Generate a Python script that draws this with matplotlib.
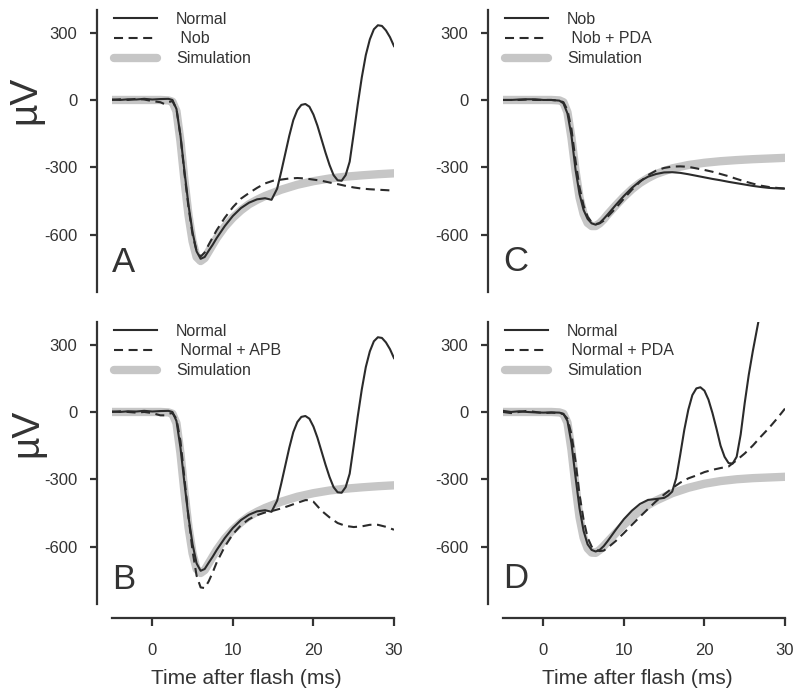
import matplotlib
matplotlib.use("Agg")
import matplotlib.pyplot as plt

plt.rcParams['font.family'] = ['Liberation Sans', 'DejaVu Sans']
plt.rcParams['lines.scale_dashes'] = False
plt.rcParams['axes.unicode_minus'] = False

# --- data (time in ms, response in uV) ---
t_normal = [-5, -4, -3, -2, -1, 0, 1, 2, 2.5, 3, 3.5, 4, 4.5, 5, 5.5, 6, 6.5, 7, 7.5, 8,
            9, 10, 11, 12, 13, 14, 14.8, 15.5, 16, 16.5, 17, 17.5, 18, 18.5, 19, 19.5,
            20, 20.5, 21, 21.5, 22, 22.5, 23, 23.5, 24, 24.5, 25, 25.5, 26, 26.5, 27,
            27.5, 28, 28.5, 29, 29.5, 30]
v_normal = [2, 0, 3, 2, 5, 2, 4, 5, 0, -40, -160, -320, -470, -590, -675, -708, -700,
            -672, -645, -615, -562, -517, -482, -458, -443, -438, -445, -395, -320, -240,
            -160, -90, -45, -22, -18, -30, -65, -115, -175, -235, -290, -335, -358, -360,
            -335, -275, -150, -20, 100, 200, 270, 315, 333, 330, 310, 280, 240]

t_nob_a = [-5, -4, -3, -2, -1, 0, 1, 1.5, 2, 2.5, 3, 3.5, 4, 4.5, 5, 5.5, 6, 6.5, 7, 8,
           9, 10, 11, 12, 13, 14, 15, 16, 17, 18, 19, 20, 21, 22, 23, 24, 25, 26, 27, 28,
           29, 30]
v_nob_a = [0, 3, 0, 5, 2, -5, -10, -18, -10, -5, -40, -160, -330, -480, -600, -675, -698,
           -680, -645, -580, -525, -478, -440, -415, -392, -372, -360, -355, -350, -348,
           -350, -355, -360, -368, -375, -383, -390, -395, -398, -400, -402, -404]

t_sim_ab = [-5, -4, -3, -2, -1, 0, 1, 2, 2.5, 3, 3.5, 4, 4.5, 5, 5.5, 6, 6.5, 7, 7.5, 8,
            9, 10, 11, 12, 13, 14, 16, 18, 20, 22, 24, 26, 28, 30]
v_sim_ab = [0, 0, 0, 0, 0, 0, 0, -2, -8, -50, -185, -360, -515, -630, -700, -718, -705,
            -675, -645, -615, -565, -525, -492, -465, -445, -428, -400, -378, -362, -350,
            -342, -336, -331, -327]

t_apb = [-5, -4, -3, -2, -1, 0, 0.5, 1, 1.5, 2, 2.5, 3, 3.5, 4, 4.5, 5, 5.5, 6, 6.5, 7,
         7.5, 8, 9, 10, 11, 12, 13, 14, 15, 16, 17, 18, 19, 19.5, 20, 20.5, 21, 22, 23,
         24, 25, 26, 27, 28, 29, 30]
v_apb = [0, 3, 0, -3, 0, -5, -10, -15, -15, -8, -5, -30, -130, -300, -470, -620, -730,
         -782, -785, -755, -715, -670, -600, -545, -505, -478, -460, -448, -440, -430,
         -418, -405, -393, -393, -400, -420, -440, -470, -495, -508, -513, -510, -503,
         -503, -512, -525]

t_c = [-5, -4, -3, -2, -1, 0, 1, 2, 2.5, 3, 3.5, 4, 4.5, 5, 5.5, 6, 6.5, 7, 7.5, 8, 9,
       10, 11, 12, 13, 14, 15, 16, 17, 18, 19, 20, 21, 22, 23, 24, 25, 26, 27, 28, 29, 30]
v_nob_c = [0, 0, 2, 3, 3, 0, 0, -3, -15, -60, -160, -310, -420, -490, -530, -550, -556,
           -548, -530, -510, -468, -428, -392, -362, -342, -330, -323, -322, -325, -331,
           -338, -345, -352, -358, -365, -371, -377, -383, -388, -392, -394, -395]
v_nob_pda = [0, 0, 0, 2, 0, 0, 0, -3, -10, -45, -130, -270, -390, -470, -520, -545, -553,
             -550, -538, -520, -482, -440, -400, -365, -335, -315, -303, -297, -296, -298,
             -305, -312, -320, -330, -340, -352, -363, -373, -382, -388, -392, -395]

t_sim = [-5, -4, -3, -2, -1, 0, 1, 2, 2.5, 3, 3.5, 4, 4.5, 5, 5.5, 6, 6.5, 7, 7.5, 8, 9,
         10, 11, 12, 13, 14, 16, 18, 20, 22, 24, 26, 28, 30]
v_sim_c = [0, 0, 0, 0, 0, 0, 0, -2, -10, -55, -170, -315, -435, -508, -548, -562, -562,
           -550, -532, -510, -470, -432, -398, -370, -348, -330, -305, -290, -280, -273,
           -268, -264, -261, -258]
v_sim_d = [0, 0, 0, 0, 0, 0, 0, -2, -8, -48, -170, -330, -470, -560, -608, -627, -628,
           -615, -598, -578, -540, -503, -470, -440, -415, -395, -362, -338, -320, -308,
           -300, -295, -292, -289]

t_normal_d = [-5, -4, -3, -2, -1, 0, 1, 2, 2.5, 3, 3.5, 4, 4.5, 5, 5.5, 6, 6.5, 7, 7.5, 8,
              9, 10, 11, 12, 13, 14, 15, 15.5, 16, 16.5, 17, 17.5, 18, 18.5, 19, 19.5, 20,
              20.5, 21, 21.5, 22, 22.5, 23, 23.5, 24, 24.5, 25, 25.5, 26, 26.5, 27]
v_normal_d = [5, 0, 3, 0, -2, -3, -2, -3, -8, -40, -140, -290, -430, -530, -590, -615,
              -622, -615, -598, -575, -525, -478, -440, -410, -392, -388, -383, -372, -355,
              -295, -190, -80, 10, 75, 105, 110, 95, 55, -5, -75, -150, -200, -228, -230,
              -200, -100, 40, 165, 270, 365, 460]

v_pda_d = [0, -5, 0, 5, 0, -5, -3, -5, -10, -30, -100, -220, -370, -480, -560, -600, -615,
           -620, -618, -605, -575, -540, -503, -467, -432, -398, -368, -340, -315, -296,
           -283, -268, -258, -250, -243, -215, -185, -150, -110, -72, -30, 15]

y_ticks = [-600, -300, 0, 300]
x_ticks = [0, 10, 20, 30]

dark = '#2b2b2b'
grey = '#c6c6c6'
txt = '#333333'

fig = plt.figure(figsize=(8, 6.96), dpi=100)
W, H = 800, 696


def make_ax(left, top, bottom_row):
    ax = fig.add_axes([left / W, 1 - (top + 282) / H, 282 / W, 282 / H])
    ax.set_xlim(-5, 30)
    ax.set_ylim(-856, 401)
    for s in ['top', 'right']:
        ax.spines[s].set_visible(False)
    ax.spines['left'].set_position(('outward', 11))
    ax.spines['left'].set_linewidth(1.6)
    ax.spines['left'].set_color(txt)
    ax.set_yticks(y_ticks)
    ax.tick_params(axis='y', length=5, width=1.6, color=txt, labelsize=12,
                   labelcolor=txt, pad=9)
    if bottom_row:
        ax.spines['bottom'].set_position(('outward', 10))
        ax.spines['bottom'].set_linewidth(1.6)
        ax.spines['bottom'].set_color(txt)
        ax.set_xticks(x_ticks)
        ax.tick_params(axis='x', length=6, width=1.6, color=txt, labelsize=12,
                       labelcolor=txt, pad=12)
        ax.set_xlabel('Time after flash (ms)', fontsize=15, color=txt, labelpad=8, x=0.475)
    else:
        ax.spines['bottom'].set_visible(False)
        ax.set_xticks([])
    return ax


def draw(ax, t1, v1, lab1, t2, v2, lab2, ts, vs, letter, ly):
    ax.plot(ts, vs, color=grey, lw=6, solid_capstyle='round', label='Simulation', zorder=1)
    ax.plot(t1, v1, color=dark, lw=1.5, label=lab1, zorder=3)
    ax.plot(t2, v2, color=dark, lw=1.5, dashes=(6.5, 4), label=lab2, zorder=2)
    h, l = ax.get_legend_handles_labels()
    ax.legend([h[1], h[2], h[0]], [l[1], l[2], l[0]], loc='upper left',
              bbox_to_anchor=(0.0, 1.0), frameon=False, fontsize=11.5, borderaxespad=0,
              borderpad=0.1, handlelength=2.7, handletextpad=1.2, labelspacing=0.3,
              labelcolor=txt)
    ax.text(0.0, ly, letter, transform=ax.transAxes, fontsize=25, color=txt,
            ha='left', va='baseline')


axA = make_ax(112, 10, False)
draw(axA, t_normal, v_normal, 'Normal', t_nob_a, v_nob_a, ' Nob', t_sim_ab, v_sim_ab, 'A', 0.071)

axC = make_ax(503, 10, False)
draw(axC, t_c, v_nob_c, 'Nob', t_c, v_nob_pda, ' Nob + PDA', t_sim, v_sim_c, 'C', 0.075)

axB = make_ax(112, 322, True)
draw(axB, t_normal, v_normal, 'Normal', t_apb, v_apb, ' Normal + APB', t_sim_ab, v_sim_ab, 'B', 0.053)

axD = make_ax(503, 322, True)
draw(axD, t_normal_d, v_normal_d, 'Normal', t_c, v_pda_d, ' Normal + PDA', t_sim, v_sim_d, 'D', 0.057)

# y-axis labels
fig.text(25 / W, 1 - 100 / H, 'µV', rotation=90, fontsize=28, color=txt, ha='center', va='center')
fig.text(27 / W, 1 - 433 / H, 'µV', rotation=90, fontsize=28, color=txt, ha='center', va='center')

fig.savefig('out.png', dpi=100)
